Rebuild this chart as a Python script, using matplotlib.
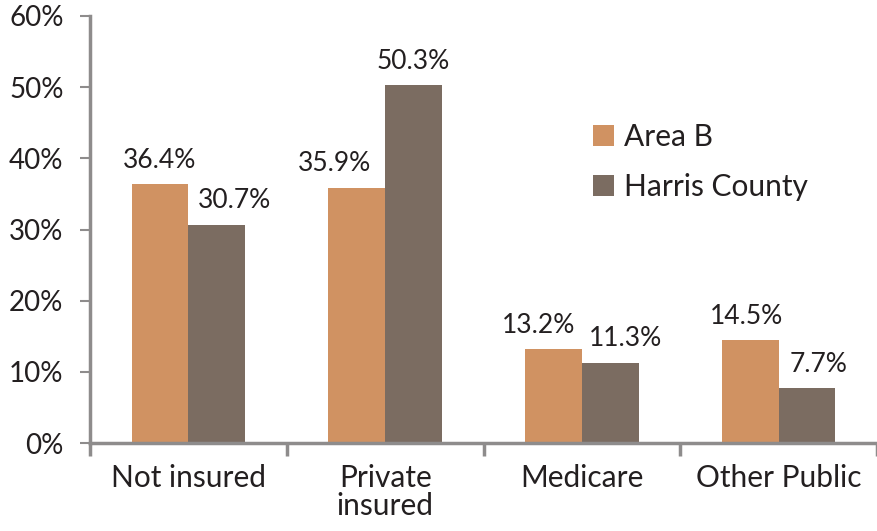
import matplotlib
matplotlib.use("Agg")
import matplotlib.pyplot as plt
import numpy as np
from matplotlib.ticker import FixedLocator

categories = ["Not insured", "Private\ninsured", "Medicare", "Other Public"]
area_b = [36.4, 35.9, 13.2, 14.5]
harris = [30.7, 50.3, 11.3, 7.7]
series_names = ["Area B", "Harris County"]
y_ticks = [0, 10, 20, 30, 40, 50, 60]
y_tick_labels = ["0%", "10%", "20%", "30%", "40%", "50%", "60%"]

c_a = "#D09262"
c_h = "#7B6C61"
axis_c = "#8E8C8C"
txt_c = "#231F20"

plt.rcParams['font.family'] = ['Lato', 'DejaVu Sans']

fig = plt.figure(figsize=(8.77, 5.31), dpi=100)
ax = fig.add_axes([90/877, 88/531, (877-90)/877, (443-16)/531])

x = np.arange(len(categories))
w = 0.288
b1 = ax.bar(x - w/2, area_b, w, color=c_a, label=series_names[0])
b2 = ax.bar(x + w/2, harris, w, color=c_h, label=series_names[1])

ax.set_xlim(-0.5, len(categories) - 0.5)
ax.set_ylim(0, 60)

# value labels (small horizontal nudges in points, style only)
dx_a = [0, -16, -11, -3]
dx_h = [13, 0, 11, 8]
for bars, vals, dxs in ((b1, area_b, dx_a), (b2, harris, dx_h)):
    for r, v, d in zip(bars, vals, dxs):
        ax.annotate(f"{v:.1f}%", (r.get_x() + r.get_width()/2, v),
                    xytext=(d, 8), textcoords="offset points",
                    ha="center", va="bottom", fontsize=19, color=txt_c)

for s in ["top", "right"]:
    ax.spines[s].set_visible(False)
for s in ["left", "bottom"]:
    ax.spines[s].set_color(axis_c)
    ax.spines[s].set_linewidth(2.5)

ax.set_yticks(y_ticks)
ax.set_yticklabels(y_tick_labels, fontsize=20, color=txt_c)
ax.tick_params(axis="y", length=7, width=1.5, color=axis_c, pad=12)

ax.set_xticks(x)
ax.set_xticklabels(categories, fontsize=21.5, color=txt_c, linespacing=1.0)
ax.tick_params(axis="x", which="major", length=0, pad=15)
ax.xaxis.set_minor_locator(FixedLocator(np.arange(-0.5, len(categories), 1.0)))
ax.tick_params(axis="x", which="minor", length=9, width=2.5, color=axis_c)

leg = ax.legend(loc="upper left", bbox_to_anchor=(578/877, (531-108)/531),
                bbox_transform=fig.transFigure, frameon=False, fontsize=21.5,
                handlelength=0.7, handleheight=0.7, handletextpad=0.35,
                labelspacing=0.75, borderpad=0)
for t in leg.get_texts():
    t.set_color(txt_c)

fig.savefig("out.png", dpi=100)
